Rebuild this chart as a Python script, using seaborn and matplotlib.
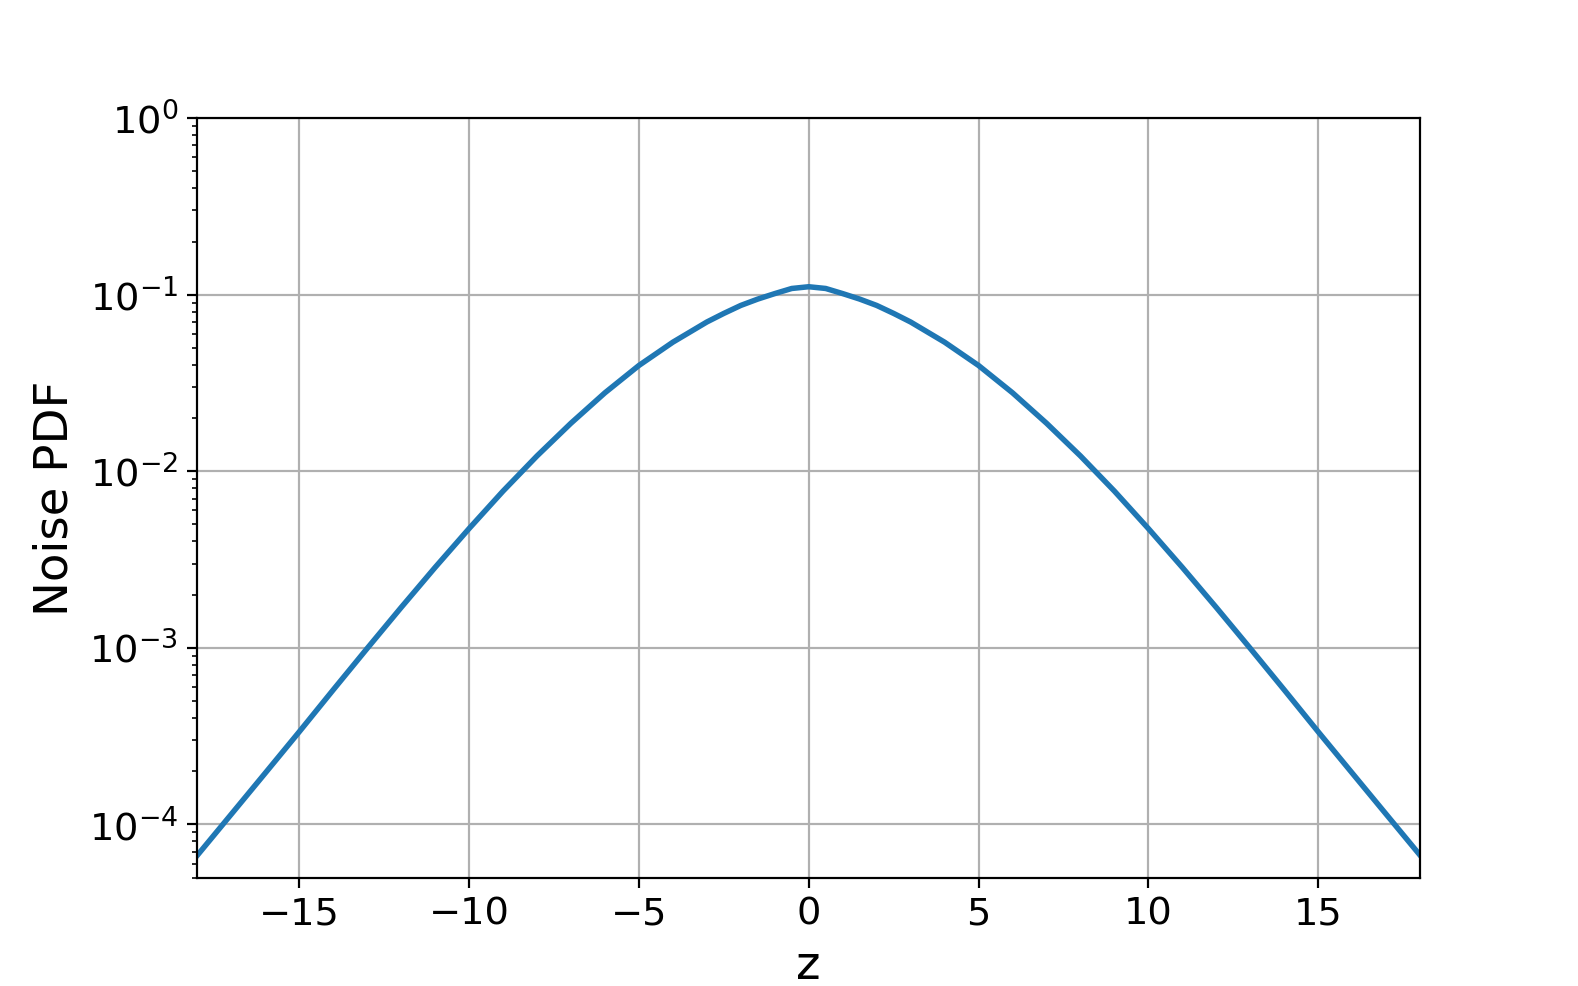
import pandas as pd
import matplotlib
matplotlib.use('Agg')
import matplotlib.pyplot as plt
import seaborn as sns

# Values (noise pdf, log y axis)
z_values = [-18, -17, -16, -15, -14, -13, -12, -11, -10, -9, -8, -7, -6, -5, -4, -3,
            -2.5, -2, -1.5, -1, -0.5, 0, 0.5, 1, 1.5, 2, 2.5,
            3, 4, 5, 6, 7, 8, 9, 10, 11, 12, 13, 14, 15, 16, 17, 18]
pdf_values = [0.0000667, 0.000114, 0.000195, 0.000334, 0.000577, 0.000991, 0.00169, 0.00285,
              0.00473, 0.00771, 0.0122, 0.0187, 0.0278, 0.0397, 0.0538, 0.0700,
              0.0783, 0.0869, 0.0944, 0.1014, 0.1084, 0.1109, 0.1084, 0.1014, 0.0944, 0.0869, 0.0783,
              0.0700, 0.0538, 0.0397, 0.0278, 0.0187, 0.0122, 0.00771,
              0.00473, 0.00285, 0.00169, 0.000991, 0.000577, 0.000334, 0.000195, 0.000114, 0.0000667]

df = pd.DataFrame({'z': z_values, 'pdf': pdf_values})

fig, ax = plt.subplots(figsize=(8, 5), dpi=197.25)
sns.lineplot(ax=ax, data=df, x='z', y='pdf', color='#1f77b4', linewidth=2)

ax.set_yscale('log')
ax.set_xlim(-18, 18)
ax.set_ylim(5e-5, 1)
ax.grid(True)
ax.set_xlabel('z', fontsize=17)
ax.set_ylabel('Noise PDF', fontsize=17)
ax.tick_params(axis='both', which='major', labelsize=14)

fig.savefig('out.png', dpi=197.25)
